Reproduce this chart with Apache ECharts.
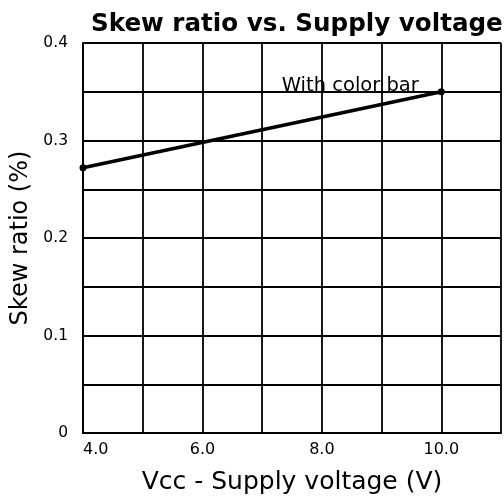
<!DOCTYPE html>
<html>
<head>
<meta charset="utf-8">
<script src="https://cdn.jsdelivr.net/npm/echarts@6/dist/echarts.min.js"></script>
<style>html,body{margin:0;padding:0;background:#fff;}#c{width:504px;height:502px;}</style>
</head>
<body>
<div id="c"></div>
<script>
var voltages = [4.0, 10.0];
var skewRatio = [0.272, 0.35];
var xTickLabels = ['4.0', '6.0', '8.0', '10.0'];
var yTickLabels = ['0', '0.1', '0.2', '0.3', '0.4'];
var seriesName = 'With color bar';

var FONT = '"DejaVu Sans", sans-serif';
var chart = echarts.init(document.getElementById('c'), null, {renderer: 'canvas'});
var data = voltages.map(function (v, i) { return [v, skewRatio[i]]; });
data[data.length - 1] = {
  value: data[data.length - 1],
  label: {
    show: true, formatter: seriesName, position: 'left', distance: 19, offset: [0, -6],
    color: '#000', fontFamily: FONT, fontSize: 19.5
  }
};
chart.setOption({
  animation: false,
  backgroundColor: '#fff',
  title: {
    text: 'Skew ratio vs. Supply voltage', left: 86, top: 7,
    textStyle: {fontFamily: FONT, fontSize: 24.6, fontWeight: 'bold', color: '#000'}
  },
  grid: {left: 83, right: 2, top: 43, bottom: 69, containLabel: false},
  xAxis: {
    type: 'value', min: 4, max: 11, interval: 1,
    name: 'Vcc - Supply voltage (V)', nameLocation: 'middle', nameGap: 37,
    nameTextStyle: {fontFamily: FONT, fontSize: 25, color: '#000'},
    axisLine: {lineStyle: {color: '#000', width: 2}},
    axisTick: {show: false},
    axisLabel: {
      fontFamily: FONT, fontSize: 16, color: '#000', margin: 9, alignMinLabel: 'left',
      formatter: function (v) { var s = v.toFixed(1); return xTickLabels.indexOf(s) >= 0 ? s : ''; }
    },
    splitLine: {show: true, lineStyle: {color: '#000', width: 1.8}}
  },
  yAxis: {
    type: 'value', min: 0, max: 0.4, interval: 0.05,
    name: 'Skew ratio (%)', nameLocation: 'middle', nameGap: 45, nameRotate: 90,
    nameTextStyle: {fontFamily: FONT, fontSize: 24, color: '#000'},
    axisLine: {show: true, lineStyle: {color: '#000', width: 2}},
    axisTick: {show: false},
    axisLabel: {
      fontFamily: FONT, fontSize: 15.5, color: '#000', margin: 15,
      formatter: function (v) {
        var k = Math.round(v * 100);
        if (k % 10 !== 0) return '';
        var s = k === 0 ? '0' : (k / 100).toFixed(1);
        return yTickLabels.indexOf(s) >= 0 ? s : '';
      }
    },
    splitLine: {show: true, lineStyle: {color: '#000', width: 1.8}}
  },
  series: [{
    name: seriesName, type: 'line', data: data,
    symbol: 'circle', symbolSize: 7,
    lineStyle: {color: '#000', width: 3.5},
    itemStyle: {color: '#000'}
  }]
});
</script>
</body>
</html>
